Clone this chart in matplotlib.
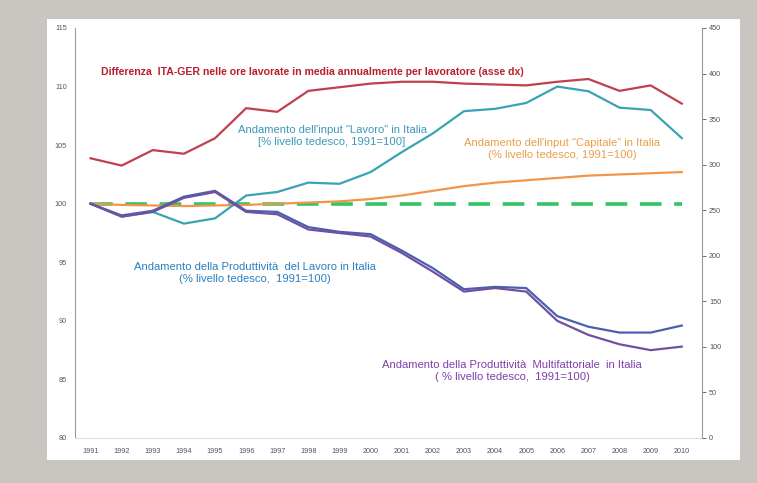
import numpy as np
import matplotlib.pyplot as plt
from matplotlib.patches import Rectangle

plt.rcParams['font.family'] = ['Liberation Sans', 'DejaVu Sans']

years = [str(y) for y in range(1991, 2011)]

# Differenza ore lavorate ITA-GER (asse dx)
ore_diff = [307, 299, 316, 312, 329, 362, 358, 381, 385, 389,
            391, 391, 389, 388, 387, 391, 394, 381, 387, 367]
# Input "Lavoro" (% livello tedesco, 1991=100)
input_lavoro = [100.0, 98.9, 99.3, 98.3, 98.75, 100.7, 101.0, 101.8, 101.7, 102.7,
                104.4, 106.0, 107.9, 108.1, 108.6, 110.0, 109.6, 108.2, 108.0, 105.6]
# Input "Capitale"
input_capitale = [100.0, 99.9, 99.85, 99.8, 99.85, 99.9, 100.0, 100.1, 100.2, 100.4,
                  100.7, 101.1, 101.5, 101.8, 102.0, 102.2, 102.4, 102.5, 102.6, 102.7]
# Produttivita del lavoro
prod_lavoro = [100.0, 99.0, 99.4, 100.6, 101.1, 99.4, 99.3, 98.0, 97.6, 97.4,
               96.0, 94.5, 92.7, 92.9, 92.8, 90.4, 89.5, 89.0, 89.0, 89.6]
# Produttivita multifattoriale
prod_multi = [100.0, 98.9, 99.3, 100.5, 101.0, 99.3, 99.1, 97.8, 97.5, 97.2,
              95.8, 94.2, 92.5, 92.8, 92.5, 90.0, 88.8, 88.0, 87.5, 87.8]
riferimento = [100.0] * len(years)

fig = plt.figure(figsize=(7.57, 4.83), dpi=100, facecolor='#c9c6c2')
fig.patches.append(Rectangle((47 / 757, 1 - 460 / 483), (740 - 47) / 757, (460 - 19) / 483,
                             transform=fig.transFigure, facecolor='white',
                             edgecolor='none', zorder=-10))

ax = fig.add_axes([75 / 757, 1 - 438 / 483, (702 - 75) / 757, (438 - 28) / 483])
ax.set_facecolor('none')
x = np.arange(len(years))

ax.plot(x, riferimento, color='#33c466', lw=2.6, dashes=(6, 3.5), zorder=2)
ax.plot(x, input_capitale, color='#f0954a', lw=1.6, zorder=3)
ax.plot(x, input_lavoro, color='#3aa3b3', lw=1.6, zorder=3)
ax.plot(x, prod_lavoro, color='#4a5fb0', lw=1.6, zorder=4)
ax.plot(x, prod_multi, color='#7050a0', lw=1.6, zorder=4)

ax.set_xlim(-0.5, 19.65)
ax.set_ylim(80, 115)
ax.set_yticks(range(80, 116, 5))
ax.set_xticks(x)
ax.set_xticklabels(years)
ax.tick_params(axis='both', labelsize=5.2, colors='#555555', length=0, pad=6)
ax.tick_params(axis='x', pad=7)
for s in ['top', 'right']:
    ax.spines[s].set_visible(False)
ax.spines['left'].set_color('#999999')
ax.spines['bottom'].set_color('#dddddd')

ax2 = ax.twinx()
ax2.plot(x, ore_diff, color='#c0404c', lw=1.6, zorder=3)
ax2.set_ylim(0, 450)
ax2.set_yticks(range(0, 451, 50))
ax2.tick_params(axis='y', labelsize=5.2, colors='#555555', length=3, width=0.6, pad=2)
for s in ['top', 'left', 'bottom']:
    ax2.spines[s].set_visible(False)
ax2.spines['right'].set_color('#999999')

def label(px, py, text, color, bold=False):
    fig.text(px / 757, 1 - py / 483, text, color=color, fontsize=7.6 if bold else 8.1,
             ha='center', va='center', fontweight='bold' if bold else 'normal',
             linespacing=1.25)

label(312, 72, 'Differenza  ITA-GER nelle ore lavorate in media annualmente per lavoratore (asse dx)',
      '#b8202c', bold=True)
label(332, 136, 'Andamento dell\'input "Lavoro" in Italia\n[% livello tedesco, 1991=100]', '#3a9ab8')
label(562, 149, 'Andamento dell\'input "Capitale" in Italia\n(% livello tedesco, 1991=100)', '#e8a048')
label(255, 273, 'Andamento della Produttività  del Lavoro in Italia\n(% livello tedesco,  1991=100)',
      '#2a80c0')
label(512, 371, 'Andamento della Produttività  Multifattoriale  in Italia\n( % livello tedesco,  1991=100)',
      '#8040a8')

fig.savefig('out.png', dpi=100, facecolor=fig.get_facecolor())
